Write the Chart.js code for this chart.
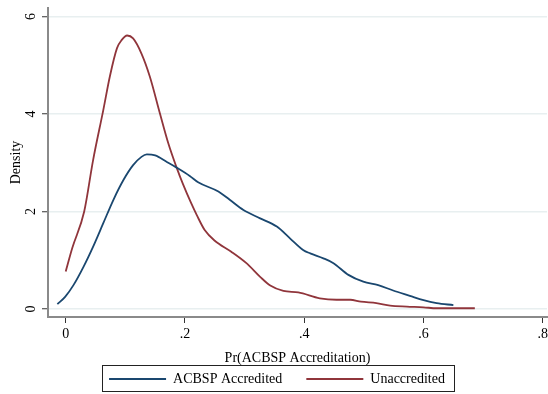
<!DOCTYPE html>
<html><head><meta charset="utf-8">
<script src="https://cdn.jsdelivr.net/npm/chart.js@4/dist/chart.umd.min.js"></script>
<style>html,body{margin:0;padding:0;background:#fff;}</style>
</head><body>
<canvas id="c" width="548" height="394"></canvas>
<script>
const seriesNames = ['ACBSP Accredited', 'Unaccredited'];
const accreditedX = [-0.014, -0.001, 0.013, 0.030, 0.046, 0.063, 0.080, 0.097, 0.113, 0.127, 0.136, 0.150, 0.169, 0.186, 0.208, 0.222, 0.256, 0.275, 0.298, 0.326, 0.354, 0.376, 0.398, 0.410, 0.432, 0.449, 0.474, 0.499, 0.524, 0.549, 0.577, 0.600, 0.622, 0.650];
const accreditedY = [0.10, 0.25, 0.49, 0.87, 1.28, 1.76, 2.24, 2.65, 2.95, 3.12, 3.17, 3.15, 3.02, 2.90, 2.73, 2.60, 2.41, 2.24, 2.03, 1.86, 1.69, 1.45, 1.21, 1.14, 1.04, 0.94, 0.70, 0.56, 0.49, 0.38, 0.27, 0.18, 0.12, 0.08];
const unaccreditedX = [0.000, 0.011, 0.031, 0.046, 0.063, 0.074, 0.086, 0.094, 0.103, 0.113, 0.127, 0.141, 0.158, 0.172, 0.186, 0.197, 0.210, 0.220, 0.233, 0.250, 0.277, 0.303, 0.326, 0.343, 0.365, 0.390, 0.426, 0.454, 0.477, 0.495, 0.521, 0.544, 0.572, 0.600, 0.622, 0.655, 0.686];
const unaccreditedY = [0.77, 1.25, 2.00, 3.06, 4.08, 4.77, 5.35, 5.52, 5.61, 5.55, 5.24, 4.77, 4.01, 3.40, 2.90, 2.55, 2.18, 1.92, 1.62, 1.40, 1.18, 0.94, 0.66, 0.48, 0.37, 0.34, 0.22, 0.19, 0.19, 0.15, 0.12, 0.07, 0.05, 0.035, 0.015, 0.015, 0.015];
const xTickValues = [0, 0.2, 0.4, 0.6, 0.8];
const xTickLabels = ['0', '.2', '.4', '.6', '.8'];
const yTickValues = [0, 2, 4, 6];
const yTickLabels = ['0', '2', '4', '6'];

const FONT = { family: '"Liberation Serif", "DejaVu Serif", serif', size: 14 };
const colors = ['#1a476f', '#90353b'];

const legendBorder = {
  id: 'legendBorder',
  afterDraw(chart) {
    const hb = chart.legend && chart.legend.legendHitBoxes;
    if (!hb || !hb.length) return;
    const last = hb[hb.length - 1];
    const l = Math.round(hb[0].left - 7), r = Math.round(last.left + last.width + 9);
    const t = Math.round(hb[0].top - 7), b = Math.round(hb[0].top + hb[0].height + 5);
    const ctx = chart.ctx;
    ctx.save();
    ctx.strokeStyle = '#222';
    ctx.lineWidth = 1;
    ctx.strokeRect(l + 0.5, t + 0.5, r - l, b - t);
    ctx.restore();
  }
};

new Chart(document.getElementById('c'), {
  type: 'line',
  data: {
    datasets: [
      { label: seriesNames[0], data: accreditedX.map((x, i) => ({ x, y: accreditedY[i] })), borderColor: colors[0], backgroundColor: colors[0] },
      { label: seriesNames[1], data: unaccreditedX.map((x, i) => ({ x, y: unaccreditedY[i] })), borderColor: colors[1], backgroundColor: colors[1] }
    ]
  },
  options: {
    responsive: false,
    animation: false,
    devicePixelRatio: 1,
    layout: { padding: { left: 7, right: 1, top: 8, bottom: -2 } },
    elements: {
      point: { radius: 0 },
      line: { borderWidth: 1.8, cubicInterpolationMode: 'monotone', fill: false }
    },
    plugins: {
      tooltip: { enabled: false },
      legend: {
        position: 'bottom',
        labels: {
          font: FONT, color: '#000', boxWidth: 57, boxHeight: 2, padding: 24,
          generateLabels(chart) {
            return Chart.defaults.plugins.legend.labels.generateLabels(chart).map(l => Object.assign(l, { fillStyle: l.strokeStyle, lineWidth: 0 }));
          }
        }
      }
    },
    scales: {
      x: {
        type: 'linear', min: -0.0297, max: 0.807,
        afterBuildTicks: s => { s.ticks = xTickValues.map(v => ({ value: v })); },
        ticks: { callback: v => xTickLabels[xTickValues.indexOf(v)], font: FONT, color: '#000', padding: 3, autoSkip: false, maxRotation: 0 },
        grid: { drawOnChartArea: false, tickLength: 6, tickColor: '#333', tickWidth: 1 },
        border: { color: '#8a8a8a', width: 2 },
        title: { display: true, text: 'Pr(ACBSP Accreditation)', font: FONT, color: '#000', padding: { top: 0, bottom: -19 } },
        afterFit: s => { s.height = 31; s.paddingLeft = 0; s.paddingRight = 0; }
      },
      y: {
        type: 'linear', min: -0.164, max: 6.174,
        afterBuildTicks: s => { s.ticks = yTickValues.map(v => ({ value: v })); },
        ticks: { callback: v => yTickLabels[yTickValues.indexOf(v)], font: FONT, color: '#000', padding: 7.5, minRotation: 90, maxRotation: 90, crossAlign: 'center', autoSkip: false },
        grid: { color: '#e8eff0', lineWidth: 1.5, tickLength: 6, tickColor: '#333', tickWidth: 1 },
        border: { color: '#8a8a8a', width: 2 },
        title: { display: true, text: 'Density', font: FONT, color: '#000', padding: { top: 1, bottom: 0 } },
        afterFit: s => { s.width = 41; s.paddingTop = 0; s.paddingBottom = 0; }
      }
    }
  },
  plugins: [legendBorder]
});
</script>
</body></html>
